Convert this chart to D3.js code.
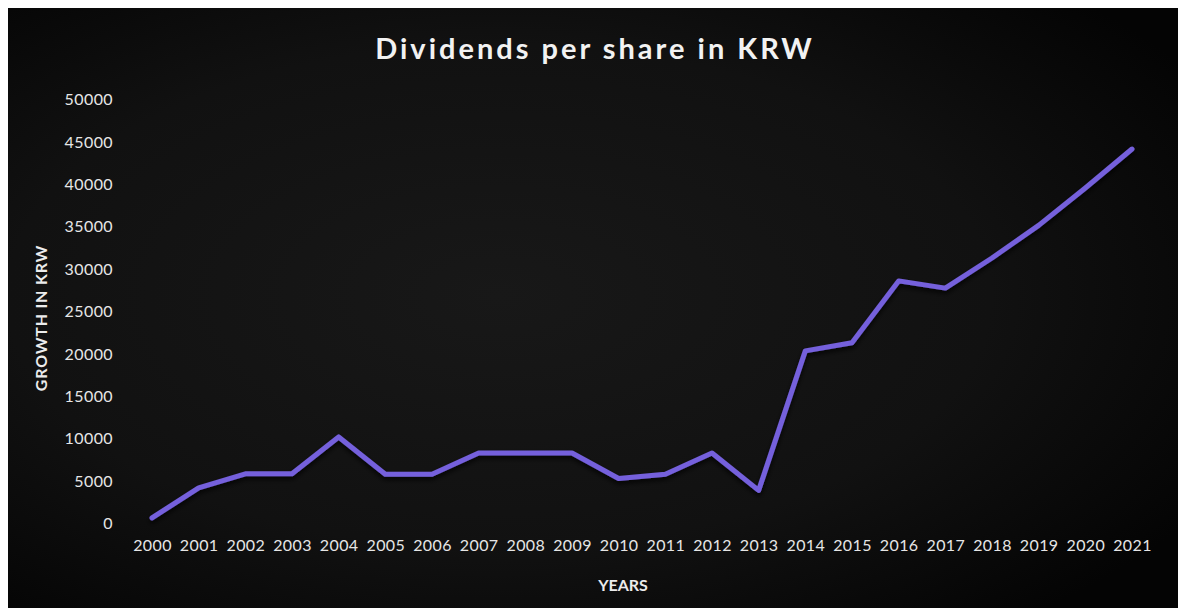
<!DOCTYPE html>
<html>
<head>
<meta charset="utf-8">
<script src="https://cdn.jsdelivr.net/npm/d3@7"></script>
<style>
  html, body { margin: 0; padding: 0; background: #fff; }
  svg { display: block; }
  .tick text { font-family: Lato, "Open Sans", sans-serif; font-size: 16px; fill: #e6e6e6; letter-spacing: 0.4px; }
</style>
</head>
<body>
<svg id="chart" width="1178" height="608"></svg>
<script>
// данные графика
const years = [2000, 2001, 2002, 2003, 2004, 2005, 2006, 2007, 2008, 2009, 2010,
  2011, 2012, 2013, 2014, 2015, 2016, 2017, 2018, 2019, 2020, 2021]
const dividends = [600, 4150, 5800, 5800, 10150, 5750, 5750, 8250, 8250, 8250, 5250,
  5750, 8250, 3850, 20300, 21250, 28550, 27700, 31250, 35100, 39500, 44100]
const yTicks = [0, 5000, 10000, 15000, 20000, 25000, 30000, 35000, 40000, 45000, 50000]

const titleText = 'Dividends per share in KRW'
const yTitle = 'GROWTH IN KRW'
const xTitle = 'YEARS'

const svg = d3.select('#chart'),
  width = +svg.attr('width'),
  height = +svg.attr('height')

const defs = svg.append('defs')
const grad = defs.append('radialGradient')
  .attr('id', 'bg')
  .attr('cx', '42%').attr('cy', '48%').attr('r', '70%')
grad.append('stop').attr('offset', '0%').attr('stop-color', '#181818')
grad.append('stop').attr('offset', '60%').attr('stop-color', '#111111')
grad.append('stop').attr('offset', '100%').attr('stop-color', '#040404')

const shadow = defs.append('filter').attr('id', 'shadow')
  .attr('x', '-5%').attr('y', '-5%').attr('width', '110%').attr('height', '120%')
shadow.append('feDropShadow')
  .attr('dx', 0).attr('dy', 3).attr('stdDeviation', 2.5)
  .attr('flood-color', '#000').attr('flood-opacity', 0.8)

// фон
svg.append('rect')
  .attr('x', 8).attr('y', 8)
  .attr('width', width - 8).attr('height', height - 8)
  .attr('fill', 'url(#bg)')

const x = d3.scaleLinear().domain([2000, 2021]).range([152, 1132])
const y = d3.scaleLinear().domain([0, 50000]).range([523, 99])

// ось Y
svg.append('g')
  .attr('transform', 'translate(113,0)')
  .call(d3.axisLeft(y).tickValues(yTicks).tickSize(0).tickPadding(0).tickFormat(d3.format('d')))
  .call(g => g.select('.domain').remove())
  .selectAll('text').attr('dy', '0.35em')

// ось X
svg.append('g')
  .attr('transform', 'translate(0,540)')
  .call(d3.axisBottom(x).tickValues(years).tickSize(0).tickPadding(0).tickFormat(d3.format('d')))
  .call(g => g.select('.domain').remove())
  .selectAll('text').attr('dy', '0.71em')

// линия
const line = d3.line()
  .x((d, i) => x(years[i]))
  .y(d => y(d))

svg.append('path')
  .datum(dividends)
  .attr('d', line)
  .attr('fill', 'none')
  .attr('stroke', '#7561dc')
  .attr('stroke-width', 5)
  .attr('stroke-linejoin', 'round')
  .attr('stroke-linecap', 'round')
  .attr('filter', 'url(#shadow)')

// заголовки
svg.append('text')
  .attr('x', 595).attr('y', 59)
  .attr('text-anchor', 'middle')
  .attr('font-family', 'Lato, "Open Sans", sans-serif')
  .attr('font-weight', 'bold')
  .attr('font-size', 29)
  .attr('letter-spacing', 3)
  .attr('fill', '#f2f2f2')
  .text(titleText)

svg.append('text')
  .attr('transform', 'translate(47,318) rotate(-90)')
  .attr('text-anchor', 'middle')
  .attr('font-family', 'Lato, "Open Sans", sans-serif')
  .attr('font-weight', 'bold')
  .attr('font-size', 16)
  .attr('letter-spacing', 0.8)
  .attr('fill', '#ececec')
  .text(yTitle)

svg.append('text')
  .attr('x', 623).attr('y', 591)
  .attr('text-anchor', 'middle')
  .attr('font-family', 'Lato, "Open Sans", sans-serif')
  .attr('font-weight', 'bold')
  .attr('font-size', 16)
  .attr('fill', '#ececec')
  .text(xTitle)
</script>
</body>
</html>
